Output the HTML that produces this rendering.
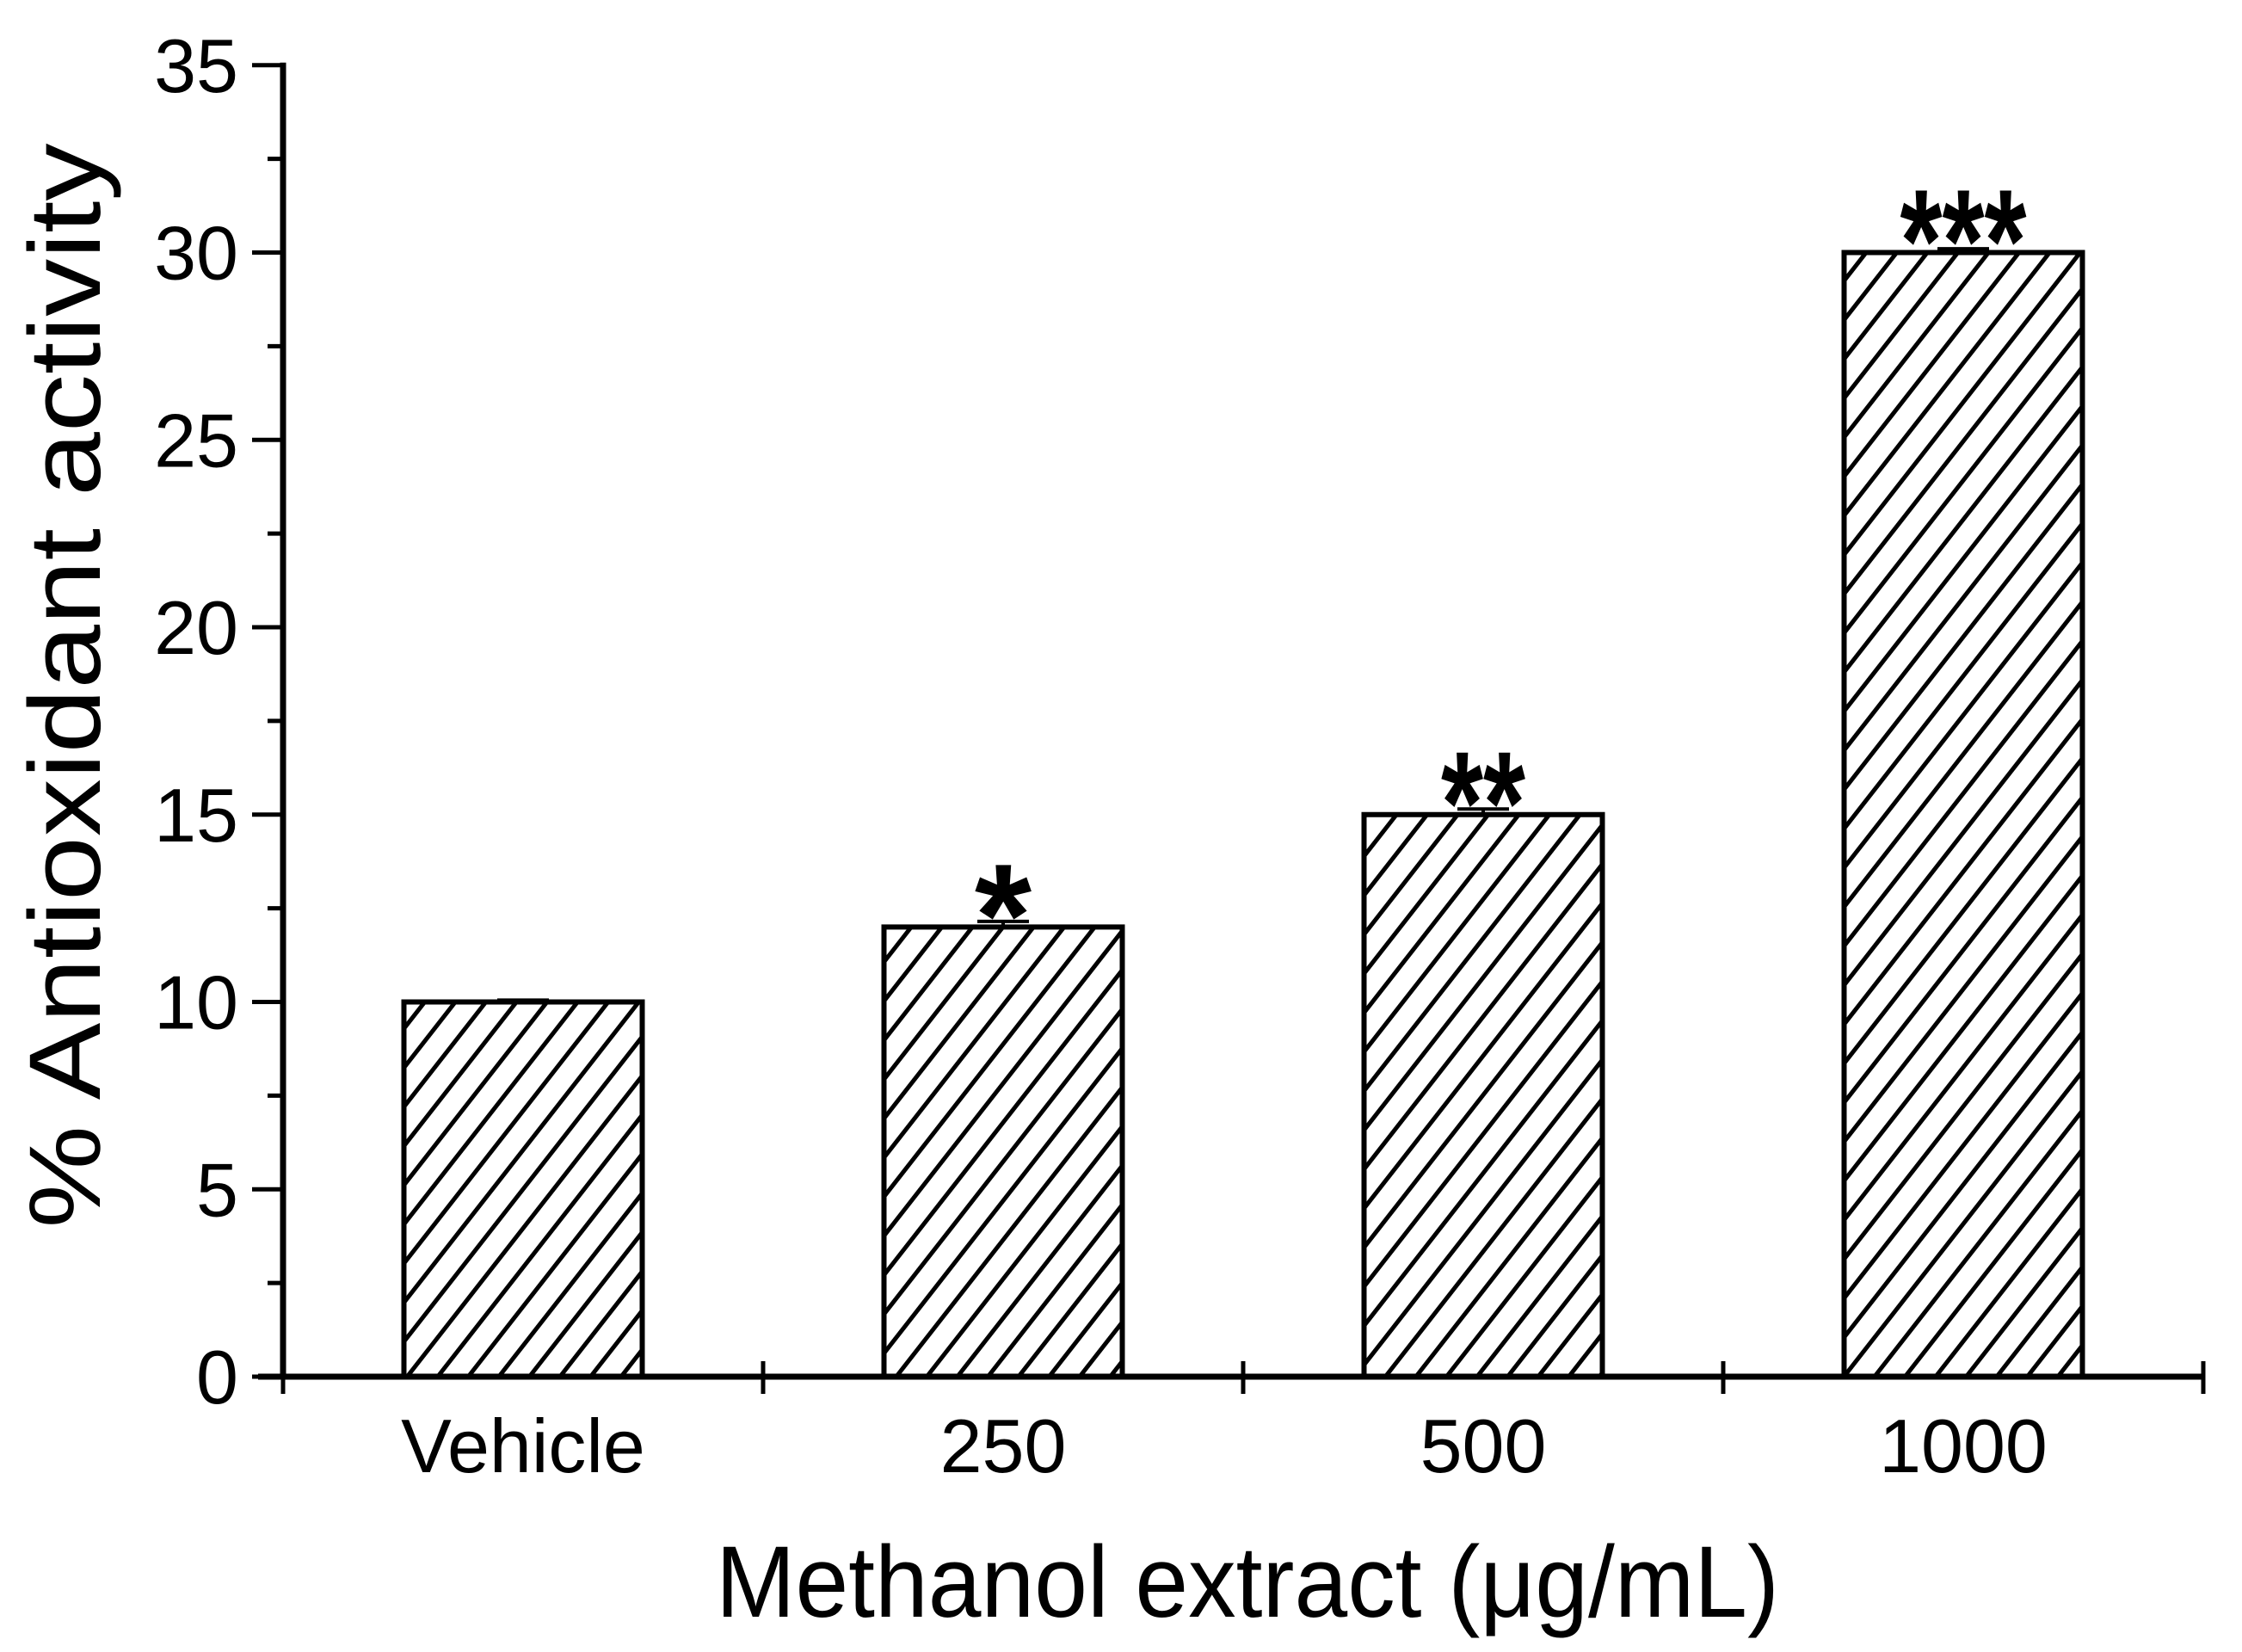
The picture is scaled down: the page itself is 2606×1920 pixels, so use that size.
<!DOCTYPE html>
<html><head><meta charset="utf-8"><style>html,body{margin:0;padding:0;background:#fff}svg{display:block}</style></head>
<body>
<svg id="chart" width="2606" height="1920" viewBox="0 0 2606 1920" xmlns="http://www.w3.org/2000/svg" font-family="'Liberation Sans', Arial, sans-serif">
<defs>
<pattern id="hatch" patternUnits="userSpaceOnUse" width="28" height="28" patternTransform="rotate(38)">
<line x1="14" y1="-5" x2="14" y2="33" stroke="#000" stroke-width="5"/>
</pattern>
</defs>
<g id="plot"></g>
<text x="1450" y="1879" font-size="118" text-anchor="middle" textLength="1236" lengthAdjust="spacingAndGlyphs">Methanol extract (μg/mL)</text>
<text transform="translate(116,797) rotate(-90)" font-size="118" text-anchor="middle" textLength="1261" lengthAdjust="spacingAndGlyphs">% Antioxidant activity</text>
</svg>
<script>
const categories = ["Vehicle", "250", "500", "1000"];
const values = [10, 12, 15, 30];
const errors = [0.05, 0.15, 0.15, 0.1];
const significance = ["", "*", "**", "***"];
const yTicks = [0, 5, 10, 15, 20, 25, 30, 35];

const NS = "http://www.w3.org/2000/svg";
const g = document.getElementById("plot");
const y0 = 1600, yUnit = 43.55;
const xLeft = 329, xStep = 558, xFirst = 608, barW = 277;
function y(v){ return y0 - v * yUnit; }
function xc(i){ return xFirst + i * xStep; }
function mk(tag, attrs){ const e = document.createElementNS(NS, tag); for (const k in attrs) e.setAttribute(k, attrs[k]); g.appendChild(e); return e; }

categories.forEach((c, i) => {
  const top = y(values[i]);
  const r = mk("rect", {x: xc(i) - barW/2, y: top, width: barW, height: y0 - top, fill: "url(#hatch)", stroke: "#000", "stroke-width": 6});
  
  
  const eTop = y(values[i] + errors[i]);
  const eb = mk("path", {d: `M${xc(i)},${top} V${eTop} M${xc(i)-30},${eTop} H${xc(i)+30}`, stroke: "#000", "stroke-width": 4, fill: "none"});
  
  
  if (significance[i]) {
    const n = significance[i].length;
    const attrs = {x: xc(i), y: top + 45, "font-size": 170, "font-weight": "bold", "text-anchor": "middle"};
    if (n > 1) { attrs.textLength = n * 49; attrs.lengthAdjust = "spacingAndGlyphs"; }
    const t = mk("text", attrs);
    t.textContent = significance[i];
    
    
  }
  const lab = mk("text", {x: xc(i), y: 1711, "font-size": 88, "text-anchor": "middle"});
  lab.textContent = c;
  
  
});

const ya = mk("line", {x1: xLeft, y1: y(35) - 3, x2: xLeft, y2: y0 + 3, stroke: "#000", "stroke-width": 7});


yTicks.forEach(v => {
  const tk = mk("line", {x1: xLeft - 36, y1: y(v), x2: xLeft, y2: y(v), stroke: "#000", "stroke-width": 5});
  
  
  if (v < 35) {
    const mt = mk("line", {x1: xLeft - 18, y1: y(v + 2.5), x2: xLeft, y2: y(v + 2.5), stroke: "#000", "stroke-width": 5});
    
    
  }
  const t = mk("text", {x: 277, y: y(v) + 31, "font-size": 88, "text-anchor": "end"});
  t.textContent = v;
  
  
});

const xa = mk("line", {x1: 300, y1: y0, x2: 2563, y2: y0, stroke: "#000", "stroke-width": 7});


for (let i = 0; i <= categories.length; i++) {
  const xx = xLeft + i * xStep;
  const tk = mk("line", {x1: xx, y1: y0 - 18, x2: xx, y2: y0 + 20, stroke: "#000", "stroke-width": 5});
  
  
}
</script>
</body></html>
